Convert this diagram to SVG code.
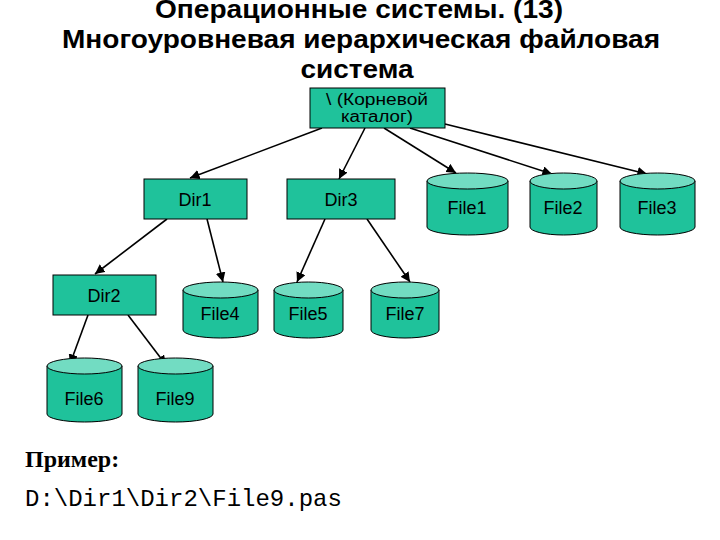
<svg xmlns="http://www.w3.org/2000/svg" width="720" height="540" viewBox="0 0 720 540">
<style>
.title{font-family:"Liberation Sans",Arial,sans-serif;font-weight:bold;font-size:26px;fill:#000;text-anchor:middle}
.box{fill:#1fc29b;stroke:#000;stroke-width:1}
.cyl{fill:#1fc29b;stroke:#000;stroke-width:1}
.top{fill:#72dcc2;stroke:#000;stroke-width:1}
.lbl{font-family:"Liberation Sans",Arial,sans-serif;font-size:18px;fill:#000;text-anchor:middle}
.rlbl{font-family:"Liberation Sans",Arial,sans-serif;font-size:16px;fill:#000;text-anchor:middle}
.edge{stroke:#000;stroke-width:1.6;fill:none;marker-end:url(#ah)}
</style>
<defs>
<marker id="ah" viewBox="0 0 10 10" refX="10" refY="5" markerWidth="6" markerHeight="6" markerUnits="strokeWidth" orient="auto">
<path d="M0,0 L10,5 L0,10 Z" fill="#000"/>
</marker>
</defs>
<rect width="720" height="540" fill="#fff"/>
<text class="title" x="359" y="18" textLength="408" lengthAdjust="spacingAndGlyphs">Операционные системы. (13)</text>
<text class="title" x="361" y="48" textLength="598" lengthAdjust="spacingAndGlyphs">Многоуровневая иерархическая файловая</text>
<text class="title" x="357" y="78" textLength="113" lengthAdjust="spacingAndGlyphs">система</text>

<g id="connectors">
<line class="edge" x1="322" y1="128" x2="190" y2="178"/>
<line class="edge" x1="365" y1="128" x2="339" y2="179"/>
<line class="edge" x1="384" y1="128" x2="456" y2="173"/>
<line class="edge" x1="410" y1="128" x2="552" y2="174"/>
<line class="edge" x1="445" y1="124" x2="647" y2="174"/>
<line class="edge" x1="167" y1="219" x2="95" y2="274"/>
<line class="edge" x1="207" y1="219" x2="223" y2="282"/>
<line class="edge" x1="325" y1="219" x2="297" y2="282"/>
<line class="edge" x1="367" y1="219" x2="410" y2="282"/>
<line class="edge" x1="88" y1="315" x2="70" y2="364"/>
<line class="edge" x1="128" y1="315" x2="166" y2="365"/>
</g>

<g id="root">
<rect class="box" x="310" y="88" width="135" height="40"/>
<text class="rlbl" x="377" y="105" textLength="102" lengthAdjust="spacingAndGlyphs">\ (Корневой</text>
<text class="rlbl" x="377" y="122" textLength="72" lengthAdjust="spacingAndGlyphs">каталог)</text>
</g>
<g id="dir1">
<rect class="box" x="144" y="179" width="103" height="40"/>
<text class="lbl" x="195" y="206">Dir1</text>
</g>
<g id="dir3">
<rect class="box" x="287" y="179" width="108" height="40"/>
<text class="lbl" x="341" y="206">Dir3</text>
</g>
<g id="dir2">
<rect class="box" x="53" y="275" width="103" height="40"/>
<text class="lbl" x="104" y="302">Dir2</text>
</g>

<g id="file1">
<path class="cyl" d="M427,181 L427,227 A40.5,8 0 0 0 508,227 L508,181 Z"/>
<ellipse class="top" cx="467.5" cy="181" rx="40.5" ry="8"/>
<text class="lbl" x="467" y="214">File1</text>
</g>
<g id="file2">
<path class="cyl" d="M530,181 L530,227 A33.5,8 0 0 0 597,227 L597,181 Z"/>
<ellipse class="top" cx="563.5" cy="181" rx="33.5" ry="8"/>
<text class="lbl" x="563" y="214">File2</text>
</g>
<g id="file3">
<path class="cyl" d="M620,181 L620,227 A37.5,8 0 0 0 695,227 L695,181 Z"/>
<ellipse class="top" cx="657.5" cy="181" rx="37.5" ry="8"/>
<text class="lbl" x="657" y="214">File3</text>
</g>
<g id="file4">
<path class="cyl" d="M183,290 L183,330 A37.5,8 0 0 0 258,330 L258,290 Z"/>
<ellipse class="top" cx="220.5" cy="290" rx="37.5" ry="8"/>
<text class="lbl" x="220" y="320">File4</text>
</g>
<g id="file5">
<path class="cyl" d="M274,290 L274,330 A34.5,8 0 0 0 343,330 L343,290 Z"/>
<ellipse class="top" cx="308.5" cy="290" rx="34.5" ry="8"/>
<text class="lbl" x="308" y="320">File5</text>
</g>
<g id="file7">
<path class="cyl" d="M371,290 L371,330 A34,8 0 0 0 439,330 L439,290 Z"/>
<ellipse class="top" cx="405" cy="290" rx="34" ry="8"/>
<text class="lbl" x="405" y="320">File7</text>
</g>
<g id="file6">
<path class="cyl" d="M47,366 L47,414 A37.5,8 0 0 0 122,414 L122,366 Z"/>
<ellipse class="top" cx="84.5" cy="366" rx="37.5" ry="8"/>
<text class="lbl" x="84" y="405">File6</text>
</g>
<g id="file9">
<path class="cyl" d="M138,366 L138,414 A37.5,8 0 0 0 213,414 L213,366 Z"/>
<ellipse class="top" cx="175.5" cy="366" rx="37.5" ry="8"/>
<text class="lbl" x="175" y="405">File9</text>
</g>

<text x="25" y="467" font-family="'Liberation Serif','Times New Roman',serif" font-weight="bold" font-size="24">Пример:</text>
<text x="25" y="506" font-family="'Liberation Mono','Courier New',monospace" font-size="24">D:\Dir1\Dir2\File9.pas</text>
</svg>
